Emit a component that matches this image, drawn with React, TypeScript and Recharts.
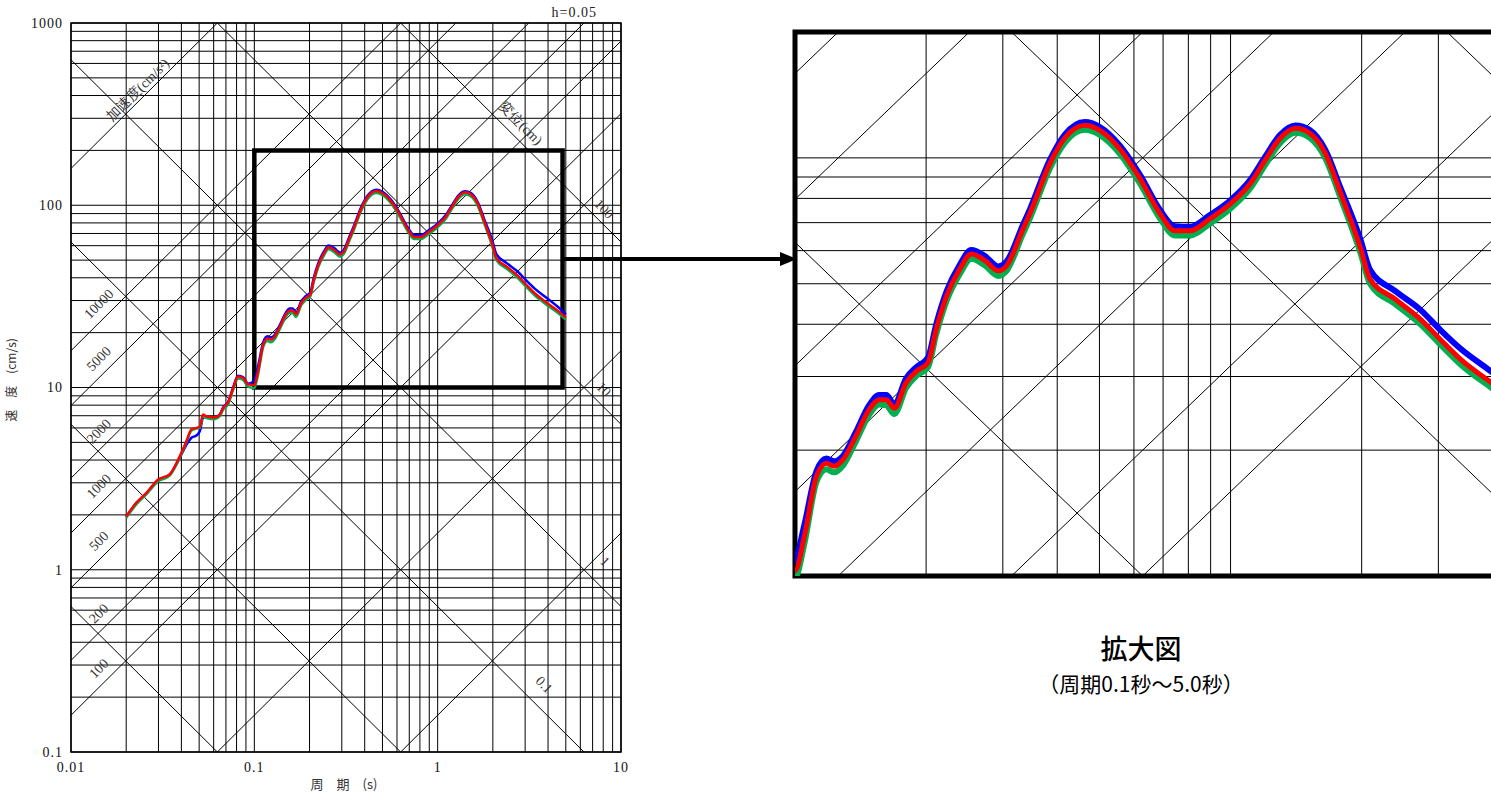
import React from 'react';
import { LineChart, Line, XAxis, YAxis, ReferenceLine, ReferenceArea, ReferenceDot } from 'recharts';

// periods (s) and pseudo-velocity response (cm/s), h=0.05
const periods = [
  0.02, 0.0227, 0.0258, 0.0298, 0.0345, 0.0384, 0.0426, 0.0454, 0.0483, 0.0504,
  0.0525, 0.0548, 0.0608, 0.0648, 0.0675, 0.072, 0.0766, 0.0815, 0.0868, 0.0925,
  0.1, 0.105, 0.112, 0.118, 0.123, 0.129, 0.138, 0.148, 0.156, 0.162,
  0.169, 0.18, 0.19, 0.202, 0.211, 0.223, 0.239, 0.254, 0.273, 0.293,
  0.306, 0.334, 0.346, 0.385, 0.416, 0.463, 0.501, 0.557, 0.619, 0.689,
  0.745, 0.807, 0.897, 1.0, 1.11, 1.2, 1.3, 1.41, 1.52, 1.65,
  1.79, 1.99, 2.09, 2.39, 2.73, 3.03, 3.37, 3.97, 4.6, 5.0,
];

const velBlue = [
  1.95, 2.32, 2.62, 3.1, 3.32, 3.95, 4.85, 5.3, 5.45, 5.75,
  6.8, 6.9, 6.85, 7.1, 7.75, 8.35, 10.0, 11.6, 11.4, 10.5,
  10.9, 13.2, 17.8, 19.1, 18.8, 19.4, 22.1, 25.6, 27.1, 27.1,
  25.8, 29.7, 31.6, 33.3, 40.0, 48.0, 55.5, 60.2, 58.2, 55.0,
  56.5, 69.3, 75.2, 99.0, 113.5, 121.8, 118.5, 107.0, 91.2, 75.0,
  68.6, 68.4, 73.0, 79.2, 88.6, 100.5, 113.5, 119.5, 116.5, 104.5,
  84.5, 63.5, 54.0, 48.0, 43.3, 38.8, 35.0, 30.8, 27.3, 25.2,
];

const velGreen = [
  1.93, 2.28, 2.6, 3.05, 3.28, 3.95, 5.0, 5.8, 5.95, 6.0,
  6.95, 6.8, 6.7, 6.95, 7.55, 8.1, 9.7, 11.2, 11.0, 10.1,
  9.9, 11.9, 16.8, 18.0, 17.7, 18.4, 21.0, 24.3, 25.7, 25.6,
  24.4, 28.2, 30.1, 31.6, 37.9, 45.6, 52.8, 57.4, 55.3, 52.2,
  53.7, 66.0, 71.6, 94.5, 108.6, 116.7, 113.5, 102.3, 87.0, 71.6,
  65.2, 65.2, 69.7, 75.7, 84.6, 96.1, 108.6, 114.8, 111.7, 99.9,
  80.1, 59.0, 50.0, 44.7, 40.0, 35.8, 32.1, 28.2, 25.3, 23.6,
];

const velRed = [
  1.96, 2.33, 2.64, 3.12, 3.33, 4.02, 5.07, 5.9, 6.0, 6.1,
  7.1, 6.95, 6.85, 7.1, 7.7, 8.3, 9.9, 11.5, 11.3, 10.4,
  10.3, 12.4, 17.3, 18.6, 18.3, 19.0, 21.6, 25.0, 26.4, 26.4,
  25.2, 29.0, 30.9, 32.4, 38.9, 46.8, 54.2, 58.9, 56.8, 53.7,
  55.2, 67.7, 73.5, 97, 111.4, 119.7, 116.4, 105, 89.3, 73.5,
  66.9, 66.9, 71.5, 77.7, 86.8, 98.6, 111.4, 117.7, 114.5, 102.5,
  82.2, 60.6, 51.3, 45.9, 41.1, 36.8, 33.0, 29.0, 26.0, 24.2,
];

const xTicks = [0.01, 0.1, 1, 10];
const yTicks = [0.1, 1, 10, 100, 1000];
const steps = [1, 2, 3, 4, 5, 6, 7, 8, 9];

// tripartite guide lines
const accelLevels = [1, 10, 100, 200, 500, 1000, 2000, 5000, 10000, 100000]; // cm/s2
const accelLabels = [100, 200, 500, 1000, 2000, 5000, 10000];
const dispLevels = [0.001, 0.01, 0.1, 1, 10, 100]; // cm

const rows = periods.map((t, i) => ({ t, blue: velBlue[i], green: velGreen[i], red: velRed[i] }));

const TWO_PI = 2 * Math.PI;
const lg = Math.log10;

const mainXGrid = [0.01, 0.1, 1].flatMap((d) => steps.map((s) => +(d * s).toPrecision(3))).concat(10);
const mainYGrid = [0.1, 1, 10, 100].flatMap((d) => steps.map((s) => +(d * s).toPrecision(3))).concat(1000);
const zoomXGrid = steps.map((s) => +(0.1 * s).toPrecision(3)).concat([1, 2, 3, 4, 5]);
const zoomYGrid = steps.map((s) => 10 * s).concat([100, 200]);

type Box = { x0: number; x1: number; y0: number; y1: number };

// straight line in log-log space (logV = s*logT + c), clipped to the box
function diag(c: number, s: number, b: Box) {
  const tA = s * (b.y0 - c);
  const tB = s * (b.y1 - c);
  const lo = Math.max(b.x0, Math.min(tA, tB));
  const hi = Math.min(b.x1, Math.max(tA, tB));
  if (hi - lo < 1e-6) return null;
  return [
    { x: 10 ** lo, y: 10 ** (s * lo + c) },
    { x: 10 ** hi, y: 10 ** (s * hi + c) },
  ];
}

const serif = "'Liberation Serif', 'DejaVu Serif', serif";
const jp = "'Noto Sans CJK JP', sans-serif";
const tickStyle = { fontFamily: serif, fontSize: 14, fill: '#111', stroke: 'none', letterSpacing: 1 };

const rotText = (text: string, angle: number, dy: number, size = 14) => (p: any) => (
  <text
    x={p.cx}
    y={p.cy}
    dy={dy}
    transform={`rotate(${angle} ${p.cx} ${p.cy})`}
    textAnchor="middle"
    fontFamily={serif}
    fontSize={size}
    fill="#333"
  >
    {text}
  </text>
);

function gridLines(xs: number[], ys: number[], box: Box, prefix: string) {
  const out: React.ReactNode[] = [];
  xs.forEach((x) => out.push(<ReferenceLine key={`${prefix}x${x}`} x={x} stroke="#000" strokeWidth={1} ifOverflow="visible" />));
  ys.forEach((y) => out.push(<ReferenceLine key={`${prefix}y${y}`} y={y} stroke="#000" strokeWidth={1} ifOverflow="visible" />));
  accelLevels.forEach((a) => {
    const seg = diag(lg(a / TWO_PI), 1, box);
    if (seg) out.push(<ReferenceLine key={`${prefix}a${a}`} segment={seg} stroke="#000" strokeWidth={1} ifOverflow="visible" />);
  });
  dispLevels.forEach((d) => {
    const seg = diag(lg(TWO_PI * d), -1, box);
    if (seg) out.push(<ReferenceLine key={`${prefix}d${d}`} segment={seg} stroke="#000" strokeWidth={1} ifOverflow="visible" />);
  });
  return out;
}

function MainChart() {
  const box: Box = { x0: -2, x1: 1, y0: -1, y1: 3 };
  const aT = 0.016;
  return (
    <LineChart width={700} height={798} data={rows} margin={{ top: 23, right: 79, bottom: 16, left: 11 }}>
      <XAxis
        dataKey="t"
        type="number"
        scale="log"
        domain={[0.01, 10]}
        ticks={xTicks}
        allowDataOverflow
        tickLine={false}
        axisLine={false}
        tickMargin={4}
        height={30}
        tickFormatter={(v: number) => String(v)}
        tick={tickStyle}
      />
      <YAxis
        type="number"
        scale="log"
        domain={[0.1, 1000]}
        ticks={yTicks}
        allowDataOverflow
        tickLine={false}
        axisLine={false}
        width={60}
        tickFormatter={(v: number) => String(v)}
        tick={tickStyle}
      />
      {gridLines(mainXGrid, mainYGrid, box, 'm')}
      <ReferenceArea x1={0.01} x2={10} y1={0.1} y2={1000} fill="none" stroke="#000" strokeWidth={1.5} ifOverflow="visible" />
      {accelLabels.map((a) => (
        <ReferenceDot key={`al${a}`} x={aT} y={(a * aT) / TWO_PI} r={0} shape={rotText(String(a), -45, -9)} />
      ))}
      <ReferenceDot x={0.025} y={(100000 * 0.025) / TWO_PI} r={0} shape={rotText('加速度(cm/s²)', -45, -4)} />
      <ReferenceDot x={7.3} y={(TWO_PI * 100) / 7.3} r={0} shape={rotText('100', 45, -7)} />
      <ReferenceDot x={7.2} y={(TWO_PI * 10) / 7.2} r={0} shape={rotText('10', 45, -8)} />
      <ReferenceDot x={6.8} y={(TWO_PI * 1) / 6.8} r={0} shape={rotText('1', 45, -16)} />
      <ReferenceDot x={3.2} y={(TWO_PI * 0.1) / 3.2} r={0} shape={rotText('0.1', 45, -15)} />
      <ReferenceDot x={2.52} y={(TWO_PI * 100) / 2.52} r={0} shape={rotText('変位(cm)', 45, -9)} />
      <ReferenceArea x1={0.1} x2={4.8} y1={10} y2={200} fill="none" stroke="#000" strokeWidth={4.5} ifOverflow="visible" />
      <Line dataKey="blue" type="monotone" stroke="#0000ff" strokeWidth={2.5} dot={false} isAnimationActive={false} />
      <Line dataKey="green" type="monotone" stroke="#00b050" strokeWidth={2.5} dot={false} isAnimationActive={false} />
      <Line dataKey="red" type="monotone" stroke="#ff0000" strokeWidth={2.5} dot={false} isAnimationActive={false} />
    </LineChart>
  );
}

function ZoomChart() {
  const box: Box = { x0: -1, x1: lg(5), y0: 1, y1: lg(200) };
  return (
    <LineChart width={800} height={620} data={rows} margin={{ top: 32, right: 45, bottom: 44, left: 15 }}>
      <XAxis dataKey="t" type="number" scale="log" domain={[0.1, 5]} allowDataOverflow hide height={0} />
      <YAxis type="number" scale="log" domain={[10, 200]} allowDataOverflow hide width={0} />
      {gridLines(zoomXGrid, zoomYGrid, box, 'z')}
      <Line dataKey="blue" type="monotone" stroke="#0000ff" strokeWidth={6} dot={false} isAnimationActive={false} />
      <Line dataKey="green" type="monotone" stroke="#00b050" strokeWidth={6} dot={false} isAnimationActive={false} />
      <Line dataKey="red" type="monotone" stroke="#ff0000" strokeWidth={5} dot={false} isAnimationActive={false} />
      <ReferenceArea x1={0.1} x2={5} y1={10} y2={200} fill="none" stroke="#000" strokeWidth={5} ifOverflow="visible" />
    </LineChart>
  );
}

export default function App() {
  return (
    <div style={{ position: 'absolute', left: 0, top: 0, width: 1491, height: 798, overflow: 'hidden', background: '#fff' }}>
      <div style={{ position: 'absolute', left: 0, top: 0 }}>
        <MainChart />
      </div>
      <div style={{ position: 'absolute', left: 780, top: 0 }}>
        <ZoomChart />
      </div>
      <svg width={1491} height={798} style={{ position: 'absolute', left: 0, top: 0, pointerEvents: 'none' }}>
        <text x={597} y={17} textAnchor="end" fontFamily={serif} fontSize={14} letterSpacing={1} fill="#222">h=0.05</text>
        <text x={344} y={789} textAnchor="middle" fontFamily={jp} fontSize={13} fill="#333">周　期　(s)</text>
        <text x={16} y={380} textAnchor="middle" fontFamily={jp} fontSize={12} fill="#333" transform="rotate(-90 16 380)">速　度　(cm/s)</text>
        <line x1={564} y1={259} x2={782} y2={259} stroke="#000" strokeWidth={4} />
        <polygon points="797,259 780,252 780,266" fill="#000" />
        <text x={1141} y={659} textAnchor="middle" fontFamily={jp} fontSize={27} fontWeight={500} fill="#000">拡大図</text>
        <text x={1141} y={692} textAnchor="middle" fontFamily={jp} fontSize={21} fill="#000">（周期0.1秒～5.0秒）</text>
      </svg>
    </div>
  );
}
